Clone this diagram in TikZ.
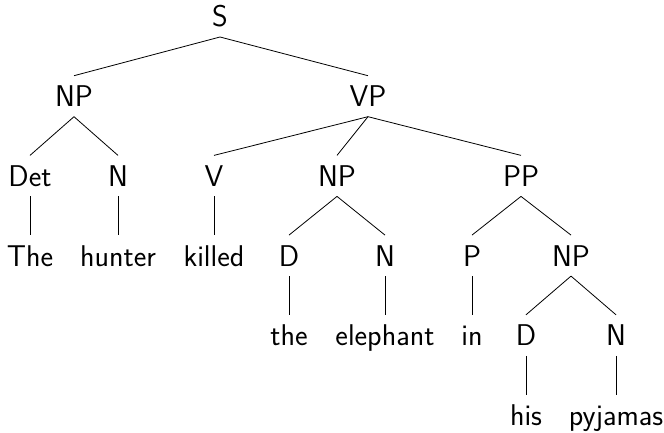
\documentclass[tikz,border=0pt]{standalone}
\begin{document}
\begin{tikzpicture}[x=1pt,y=1pt,
  lbl/.style={font=\fontsize{30}{36}\sffamily, text height=20.8pt, text depth=0pt,
    inner xsep=0pt, inner ysep=10.1pt, outer sep=0pt},
  edge/.style={draw=black, line width=0.8pt}]
\useasboundingbox (0,0) rectangle (664,432);
% rows
\def\ra{415.5}\def\rb{335.8}\def\rc{256.1}\def\rd{176.4}\def\re{96.7}\def\rf{17}
\node[lbl] (S) at (220,\ra) {S};
\node[lbl] (NP1) at (74,\rb) {NP};
\node[lbl] (VP) at (368,\rb) {VP};
\node[lbl] (Det) at (30,\rc) {Det};
\node[lbl] (N1) at (118,\rc) {N};
\node[lbl] (V) at (214,\rc) {V};
\node[lbl] (NP2) at (337,\rc) {NP};
\node[lbl] (PP) at (521,\rc) {PP};
\node[lbl] (The) at (30,\rd) {The};
\node[lbl] (hunter) at (118,\rd) {hunter};
\node[lbl] (killed) at (214,\rd) {killed};
\node[lbl] (D1) at (289,\rd) {D};
\node[lbl] (N2) at (385,\rd) {N};
\node[lbl] (P) at (472,\rd) {P};
\node[lbl] (NP3) at (571,\rd) {NP};
\node[lbl] (the) at (289,\re) {the};
\node[lbl] (elephant) at (385,\re) {elephant};
\node[lbl] (in) at (472,\re) {in};
\node[lbl] (D2) at (526,\re) {D};
\node[lbl] (N3) at (616,\re) {N};
\node[lbl] (his) at (526,\rf) {his};
\node[lbl] (pyjamas) at (616,\rf) {pyjamas};
\foreach \a/\b in {S/NP1,S/VP,NP1/Det,NP1/N1,VP/V,VP/NP2,VP/PP,Det/The,N1/hunter,V/killed,
  NP2/D1,NP2/N2,PP/P,PP/NP3,D1/the,N2/elephant,P/in,NP3/D2,NP3/N3,D2/his,N3/pyjamas}
  \draw[edge] (\a.south) -- (\b.north);
\end{tikzpicture}
\end{document}
